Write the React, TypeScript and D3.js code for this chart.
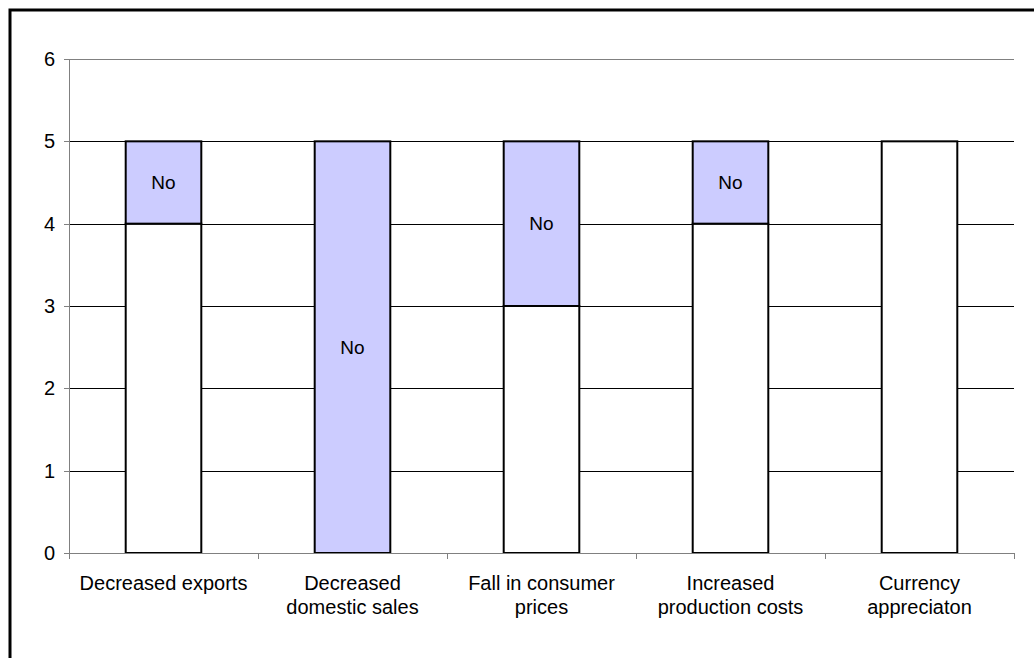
import React from "react";
import * as d3 from "d3";

const categories: string[][] = [
  ["Decreased exports"],
  ["Decreased", "domestic sales"],
  ["Fall in consumer", "prices"],
  ["Increased", "production costs"],
  ["Currency", "appreciaton"],
];
const yesValues = [4, 0, 3, 4, 5];
const noValues = [1, 5, 2, 1, 0];
const yTicks = [0, 1, 2, 3, 4, 5, 6];

const W = 1034;
const H = 658;
const left = 69;
const right = 1014;
const top = 59;
const bottom = 553;

export default function App() {
  const x = d3
    .scaleBand<number>()
    .domain(categories.map((_, i) => i))
    .range([left, right])
    .paddingInner(0.6)
    .paddingOuter(0.3);
  const band = (right - left) / categories.length;
  const y = d3.scaleLinear().domain([0, 6]).range([bottom, top]);
  const font = "Arial, 'Liberation Sans', sans-serif";

  return (
    <svg
      width={W}
      height={H}
      style={{ position: "absolute", left: 0, top: 0, background: "#fff" }}
      fontFamily={font}
    >
      <rect x={10} y={10} width={W} height={H} fill="#fff" stroke="#000" strokeWidth={3} />
      {/* gridlines */}
      {yTicks.filter((t) => t > 0 && t < 6).map((t) => (
        <line key={"g" + t} x1={left} x2={right} y1={Math.round(y(t)) + 0.5} y2={Math.round(y(t)) + 0.5} stroke="#000" strokeWidth={1} />
      ))}
      <line x1={left} x2={right} y1={Math.round(y(6)) + 0.5} y2={Math.round(y(6)) + 0.5} stroke="#808080" strokeWidth={1} />
      {/* bars */}
      {categories.map((_, i) => {
        const bx = x(i)!;
        const bw = x.bandwidth();
        const yv = yesValues[i];
        const nv = noValues[i];
        return (
          <g key={"b" + i}>
            {yv > 0 && (
              <rect x={bx} y={y(yv)} width={bw} height={y(0) - y(yv)} fill="#ffffff" stroke="#000" strokeWidth={2} />
            )}
            {nv > 0 && (
              <rect x={bx} y={y(yv + nv)} width={bw} height={y(yv) - y(yv + nv)} fill="#ccccff" stroke="#000" strokeWidth={2} />
            )}
            {nv > 0 && (
              <text x={bx + bw / 2} y={(y(yv) + y(yv + nv)) / 2} dy="0.35em" textAnchor="middle" fontSize={19} fill="#000">
                No
              </text>
            )}
          </g>
        );
      })}
      {/* y axis */}
      <line x1={left + 0.5} x2={left + 0.5} y1={top} y2={bottom} stroke="#808080" strokeWidth={1} />
      {yTicks.map((t) => (
        <g key={"yt" + t}>
          <line x1={left - 5} x2={left} y1={Math.round(y(t)) + 0.5} y2={Math.round(y(t)) + 0.5} stroke="#808080" />
          <text x={left - 14} y={y(t)} dy="0.35em" textAnchor="end" fontSize={20} fill="#000">
            {t}
          </text>
        </g>
      ))}
      {/* x axis */}
      <line x1={left} x2={right} y1={bottom + 0.5} y2={bottom + 0.5} stroke="#808080" strokeWidth={1} />
      {d3.range(categories.length + 1).map((i) => (
        <line key={"xt" + i} x1={Math.round(left + i * band) + 0.5} x2={Math.round(left + i * band) + 0.5} y1={bottom} y2={bottom + 6} stroke="#808080" />
      ))}
      {categories.map((lines, i) => (
        <text key={"xl" + i} x={x(i)! + x.bandwidth() / 2} y={590} textAnchor="middle" fontSize={20} fill="#000">
          {lines.map((l, j) => (
            <tspan key={j} x={x(i)! + x.bandwidth() / 2} dy={j === 0 ? 0 : 24}>
              {l}
            </tspan>
          ))}
        </text>
      ))}
    </svg>
  );
}
